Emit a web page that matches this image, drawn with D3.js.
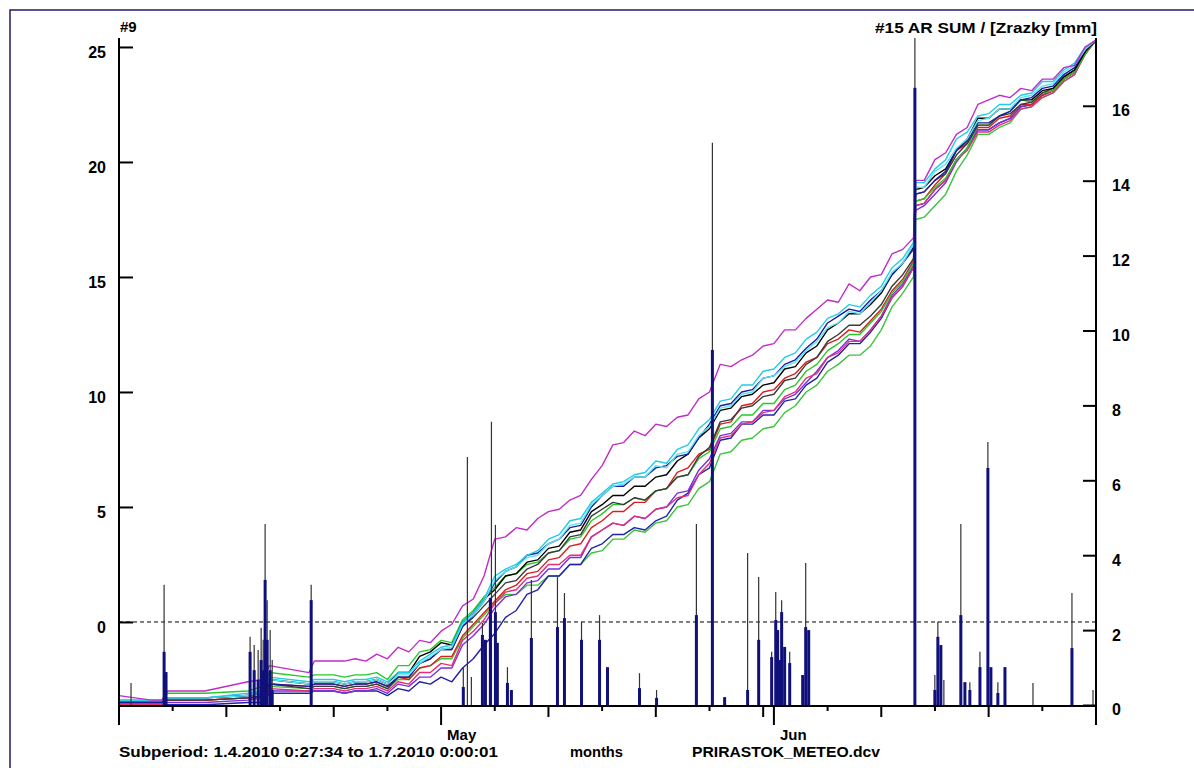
<!DOCTYPE html>
<html><head><meta charset="utf-8">
<script src="https://cdn.jsdelivr.net/npm/d3@7"></script>
<style>
body{margin:0;background:#fff}
svg{display:block}
text{font-family:"Liberation Sans",Arial,sans-serif;font-weight:bold;fill:#000}
</style>
</head><body>
<svg id="c" width="1194" height="768"></svg>
<script>
// ---- DATA (days after 1.4.2010 0:00) ----
const sampleDays = [0,3,4,4.5,8,12,13.4,14,17.7,18.2,
  20,21,22,23,24,25,26,27,28,29,
  30,31,32,33,34,35,36,37,38,39,
  40,41,42,43,44,45,46,47,48,49,
  50,51,52,53,54,55,56,57,58,59,
  60,61,62,63,64,65,66,67,68,69,
  70,71,72,73,74,74.2,
  75,76,77,78,79,80,81,82,83,84,85,86,87,88,89,90,91];

const magenta = [-3.2,-3.4,-3.4,-3.0,-3.0,-2.6,-2.5,-1.9,-2.2,-1.7,
  -1.7,-1.7,-1.6,-1.7,-1.4,-1.6,-1.1,-1.3,-0.8,-0.9,
  -0.4,-0.1,0.7,1.0,2.0,3.6,3.7,4.1,4.0,4.5,
  4.8,4.9,5.3,5.5,6.2,6.8,7.7,7.8,8.3,8.1,
  8.6,8.5,8.9,9.0,9.7,10.0,11.2,11.1,11.4,11.6,
  12.0,12.1,12.7,12.7,13.2,13.6,14.0,13.9,14.7,14.4,
  15.0,15.1,16.0,16.2,16.7,19.2,
  19.2,20.1,20.4,21.2,21.5,22.5,22.7,22.9,22.8,23.2,23.1,23.6,23.6,24.1,24.2,25.0,25.3];
const cyan1 = [-3.4,-3.4,-3.4,-3.3,-3.3,-3.1,-3.0,-2.4,-2.6,-2.5,
  -2.5,-2.6,-2.5,-2.5,-2.4,-2.6,-2.2,-2.2,-1.7,-1.4,
  -1.1,-1.0,0.0,0.4,1.0,2.0,2.3,2.5,2.9,3.1,
  3.6,3.8,4.4,4.5,5.2,5.6,6.0,6.1,6.4,6.5,
  7.0,6.9,7.5,7.7,8.4,8.8,9.6,9.7,10.3,10.3,
  10.9,11.0,11.5,11.7,12.3,12.6,13.2,13.4,13.8,13.7,
  14.2,14.6,15.4,15.8,16.5,19.1,
  19.1,19.7,20.1,21.0,21.3,22.0,22.1,22.5,22.5,22.9,23.0,23.5,23.5,24.0,24.3,25.0,25.3];
const cyan2 = [-3.4,-3.4,-3.4,-3.3,-3.3,-3.2,-3.1,-2.5,-2.7,-2.6,
  -2.6,-2.7,-2.6,-2.6,-2.5,-2.7,-2.3,-2.3,-1.8,-1.5,
  -1.2,-1.1,-0.1,0.3,0.9,1.8,2.2,2.4,2.8,2.9,
  3.4,3.6,4.2,4.3,5.1,5.5,5.9,6.0,6.3,6.3,
  6.8,6.7,7.3,7.4,8.1,8.5,9.3,9.4,9.9,10.0,
  10.6,10.7,11.1,11.3,11.8,12.2,12.8,13.0,13.5,13.4,
  13.9,14.4,15.2,15.6,16.4,18.9,
  18.9,19.6,19.9,20.6,21.0,21.8,21.9,22.3,22.3,22.8,22.9,23.3,23.4,23.9,24.2,24.9,25.3];
const navy1 = [-3.5,-3.5,-3.5,-3.3,-3.3,-3.2,-3.1,-2.7,-2.8,-2.7,
  -2.7,-2.8,-2.7,-2.7,-2.6,-2.8,-2.4,-2.4,-1.8,-1.6,
  -1.2,-1.2,-0.2,0.3,0.9,1.7,2.2,2.4,2.9,3.0,
  3.4,3.6,4.1,4.2,5.0,5.5,5.9,5.9,6.3,6.3,
  6.7,6.8,7.2,7.3,8.0,8.6,9.4,9.5,10.0,10.1,
  10.6,10.7,11.2,11.4,11.9,12.3,13.0,13.3,13.6,13.5,
  14.0,14.4,15.1,15.6,16.2,18.6,
  18.7,19.2,19.6,20.5,20.9,21.7,21.7,22.0,22.2,22.7,22.8,23.2,23.3,23.8,24.1,24.9,25.3];
const black1 = [-3.5,-3.5,-3.5,-3.3,-3.3,-3.2,-3.1,-2.5,-2.7,-2.6,
  -2.6,-2.7,-2.6,-2.6,-2.5,-2.7,-2.2,-2.2,-1.5,-1.3,
  -0.9,-1.0,0.0,0.4,1.0,1.4,2.0,2.1,2.6,2.7,
  3.2,3.3,3.9,4.0,4.8,5.1,5.5,5.5,5.9,5.9,
  6.3,6.4,7.0,7.3,8.0,8.4,9.2,9.3,9.8,9.9,
  10.3,10.4,11.0,11.1,11.7,12.0,12.7,13.0,13.4,13.4,
  13.8,14.3,15.1,15.6,16.3,18.8,
  18.9,19.4,19.7,20.5,21.0,21.9,21.9,22.3,22.3,22.7,22.7,23.1,23.2,23.7,24.0,24.8,25.3];
const black2 = [-3.5,-3.5,-3.5,-3.4,-3.4,-3.3,-3.2,-2.7,-2.9,-2.8,
  -2.8,-2.9,-2.8,-2.8,-2.7,-2.9,-2.4,-2.4,-1.8,-1.6,
  -1.2,-1.2,-0.2,0.2,0.7,1.2,1.7,1.8,2.3,2.5,
  3.0,3.1,3.7,3.8,4.6,4.9,5.2,5.1,5.4,5.3,
  5.7,5.8,6.3,6.4,7.2,7.6,8.7,8.8,9.3,9.4,
  9.8,9.9,10.5,10.6,11.2,11.5,12.2,12.5,12.9,12.9,
  13.3,13.8,14.6,15.1,15.8,18.6,
  18.7,19.2,19.5,20.3,20.8,21.6,21.6,22.0,22.1,22.5,22.6,23.0,23.2,23.7,24.0,24.8,25.3];
const green1 = [-3.4,-3.4,-3.4,-3.1,-3.1,-3.0,-2.8,-2.2,-2.4,-2.3,
  -2.3,-2.4,-2.3,-2.3,-2.2,-2.5,-1.9,-1.9,-1.3,-1.2,
  -0.8,-0.9,0.1,0.5,1.1,1.5,2.0,2.1,2.5,2.6,
  3.0,3.1,3.6,3.7,4.4,4.7,5.1,5.1,5.4,5.3,
  5.7,5.8,6.3,6.4,7.1,7.4,8.4,8.5,9.0,9.0,
  9.5,9.5,10.1,10.3,10.9,11.2,11.8,12.1,12.5,12.5,
  13.0,13.5,14.3,14.8,15.6,18.3,
  18.4,18.9,19.3,20.1,20.6,21.6,21.6,22.0,22.2,22.7,22.6,23.0,23.1,23.6,23.9,24.7,25.3];
const red1 = [-3.5,-3.5,-3.5,-3.4,-3.4,-3.3,-3.2,-2.7,-2.8,-2.7,
  -2.7,-2.8,-2.7,-2.7,-2.6,-2.8,-2.4,-2.5,-2.0,-1.9,
  -1.5,-1.5,-0.6,-0.1,0.4,0.9,1.4,1.6,2.1,2.2,
  2.7,2.8,3.3,3.4,4.1,4.4,4.8,4.8,5.2,5.2,
  5.7,5.8,6.5,6.7,7.3,7.5,8.6,8.7,9.4,9.5,
  10.0,10.1,10.6,10.8,11.3,11.5,12.1,12.3,12.7,12.6,
  13.1,13.6,14.4,14.9,15.7,18.3,
  18.4,19.0,19.5,20.5,20.8,21.5,21.5,21.9,22.0,22.5,22.5,22.9,23.1,23.6,23.9,24.7,25.3];
const pink = [-3.6,-3.6,-3.6,-3.4,-3.4,-3.3,-3.3,-2.9,-3.0,-2.9,
  -2.9,-3.0,-2.9,-2.9,-2.8,-3.0,-2.6,-2.7,-2.2,-2.2,
  -1.8,-1.9,-0.8,-0.4,0.1,0.8,1.3,1.4,1.9,2.0,
  2.5,2.5,2.9,2.9,3.7,4.0,4.3,4.2,4.6,4.5,
  4.9,5.0,5.4,5.5,6.4,6.9,8.0,8.1,8.6,8.7,
  9.1,9.2,9.8,10.0,10.6,10.8,11.5,11.7,12.2,12.2,
  12.7,13.3,14.1,14.6,15.4,18.1,
  18.2,18.8,19.2,20.1,20.5,21.3,21.3,21.6,21.8,22.3,22.4,22.8,23.0,23.5,23.8,24.7,25.3];
const violet = [-3.6,-3.6,-3.6,-3.5,-3.5,-3.4,-3.3,-3.0,-3.0,-3.0,
  -3.0,-3.1,-3.0,-3.0,-2.9,-3.1,-2.7,-2.8,-2.4,-2.4,
  -2.0,-2.0,-1.0,-0.6,-0.1,0.6,1.1,1.2,1.7,1.8,
  2.3,2.3,2.8,2.8,3.7,4.0,4.3,4.2,4.6,4.5,
  4.9,5.0,5.6,5.7,6.6,7.1,8.1,8.2,8.7,8.7,
  9.2,9.2,9.7,9.9,10.4,10.9,11.5,11.8,12.3,12.2,
  12.7,13.3,14.2,14.7,15.5,17.9,
  18.1,18.6,19.1,20.0,20.6,21.4,21.4,21.7,21.9,22.4,22.5,22.9,23.1,23.6,23.9,24.7,25.3];
const navy2 = [-3.6,-3.6,-3.6,-3.6,-3.6,-3.5,-3.5,-3.1,-3.1,-3.0,
  -3.0,-3.1,-3.0,-3.0,-3.0,-3.2,-2.9,-3.0,-2.6,-2.7,
  -2.4,-2.6,-2.0,-1.6,-1.0,-0.5,0.2,0.5,1.2,1.4,
  2.0,2.0,2.5,2.5,3.2,3.4,3.8,3.8,4.1,4.0,
  4.4,4.6,5.3,5.6,6.4,6.7,7.9,8.0,8.6,8.6,
  9.0,9.0,9.6,9.7,10.3,10.6,11.3,11.6,12.1,12.1,
  12.6,13.2,14.1,14.6,15.4,18.1,
  18.2,18.8,19.2,20.1,20.6,21.4,21.4,21.7,21.9,22.4,22.5,22.9,23.1,23.6,23.9,24.8,25.3];
const green2 = [-3.5,-3.5,-3.5,-3.4,-3.4,-3.3,-3.3,-2.8,-2.9,-2.8,
  -2.8,-2.9,-2.8,-2.8,-2.7,-2.9,-2.5,-2.5,-2.0,-1.9,
  -1.6,-1.6,-0.7,-0.2,0.3,0.8,1.2,1.2,1.6,1.6,
  2.0,2.0,2.5,2.5,3.0,3.1,3.6,3.6,4.0,3.9,
  4.3,4.4,5.0,5.1,5.8,6.1,7.3,7.4,7.9,8.0,
  8.4,8.5,9.1,9.4,10.0,10.3,10.9,11.2,11.6,11.6,
  12.0,12.7,13.7,14.3,15.0,17.5,
  17.6,18.1,18.6,19.6,20.3,21.2,21.2,21.5,21.7,22.3,22.4,22.8,23.0,23.5,23.8,24.7,25.3];

// precipitation (right axis, mm)
const rainDays = [1.12,4.20,4.38,12.21,12.59,12.96,13.24,13.43,13.61,13.80,14.08,14.27,17.90,32.07,32.45,32.82,33.85,34.13,34.59,34.69,35.06,35.24,36.18,36.55,38.41,40.84,41.49,43.08,44.76,45.50,48.48,50.07,53.78,55.27,56.41,58.55,59.58,60.79,61.17,61.35,61.54,61.72,62.00,62.47,63.68,63.96,64.24,74.13,75.99,76.27,76.55,76.83,78.41,78.79,79.25,80.19,80.93,81.21,81.86,82.52,85.13,88.76,90.72];
const rainThin = [0.59,3.21,0,1.82,1.60,1.47,2.06,1.74,4.83,2.80,2.00,1.20,3.21,1.01,6.62,0.75,2.19,0,0,7.56,4.81,0,1.01,0,3.34,3.42,2.99,2.22,2.40,0,0.85,0.40,4.83,15.01,0,4.06,3.42,1.42,3.02,0,0,2.80,0,1.42,0,3.79,0,17.81,0.80,2.22,0,0.67,4.83,0,0.61,1.42,7.02,0,0.61,1.01,0.59,2.99,0.40];
const rainNavy = [0,1.42,0.88,1.42,0.93,0.67,1.20,0.93,3.34,1.74,0.93,0.40,2.80,0.48,0,0,1.87,1.74,2.86,0,2.48,1.66,0.59,0.40,1.79,2.08,2.32,1.74,1.74,1.01,0.45,0.19,2.40,9.48,0.21,0.40,1.74,1.28,2.27,2.00,1.20,2.48,1.55,1.12,0.80,2.08,2.00,16.48,0.40,1.82,1.60,0,2.40,0.61,0.40,1.01,6.33,1.01,0.32,1.01,0,1.52,0];

const leftTicks = [0,5,10,15,20,25];
const rightTicks = [0,2,4,6,8,10,12,14,16];
const monthLabels = [{m:4,label:"May"},{m:5,label:"Jun"}];
const tickDaysOfMonth = [1,6,11,16,21,26,31];

const series = [
  {v:green2, c:"#3cc43c"},
  {v:navy2, c:"#2222a8"},
  {v:violet, c:"#7a2ee0"},
  {v:pink, c:"#e0307a"},
  {v:red1, c:"#d81e1e"},
  {v:green1, c:"#28c828"},
  {v:black2, c:"#3a3a3a"},
  {v:black1, c:"#000000"},
  {v:navy1, c:"#1c1ca0"},
  {v:cyan2, c:"#58e4f4"},
  {v:cyan1, c:"#22cce4"},
  {v:magenta, c:"#c02cc8"}
];

// ---- CHART ----
const svg = d3.select("#c");
const t0 = new Date(2010,3,1);
const toDate = d => new Date(t0.getTime() + d*864e5);
const x = d3.scaleTime().domain([t0, new Date(2010,6,1)]).range([119,1096]);
const yL = d3.scaleLinear().domain([-3.61,25.39]).range([705,38]);
const yR = d3.scaleLinear().domain([0,17.81]).range([705,38]);

// frame
svg.append("path").attr("d","M10,768V10H1194").attr("fill","none").attr("stroke","#1e1e64").attr("stroke-width",1.5);

// dashed zero line
svg.append("line").attr("x1",x.range()[0]).attr("x2",x.range()[1]).attr("y1",yL(0)).attr("y2",yL(0))
  .attr("stroke","#000").attr("stroke-width",1).attr("stroke-dasharray","4,3");

// lines
const line = d3.line().defined(d=>d!=null).x((d,i)=>x(toDate(sampleDays[i]))).y(d=>yL(d));
svg.append("g").selectAll("path").data(series).join("path")
  .attr("d",s=>line(s.v)).attr("fill","none").attr("stroke",s=>s.c).attr("stroke-width",1.4)
  .attr("stroke-linejoin","round");

// rain thin lines
svg.append("g").selectAll("line").data(rainDays.map((d,i)=>({d,v:rainThin[i]})).filter(r=>r.v>0)).join("line")
  .attr("x1",r=>x(toDate(r.d))).attr("x2",r=>x(toDate(r.d)))
  .attr("y1",yR(0)).attr("y2",r=>yR(r.v)).attr("stroke","#333").attr("stroke-width",1.2);
// rain navy bars
svg.append("g").selectAll("rect").data(rainDays.map((d,i)=>({d,v:rainNavy[i]})).filter(r=>r.v>0)).join("rect")
  .attr("x",r=>x(toDate(r.d))-1.5).attr("width",3)
  .attr("y",r=>yR(r.v)).attr("height",r=>yR(0)-yR(r.v)).attr("fill","#10107a");

// left axis
const gL = svg.append("g").attr("transform",`translate(${x.range()[0]},0)`)
  .call(d3.axisLeft(yL).tickValues(leftTicks).tickSizeInner(-14).tickSizeOuter(0).tickPadding(13));
gL.select(".domain").remove();
gL.selectAll(".tick line").attr("stroke","#000").attr("stroke-width",2);
gL.selectAll(".tick text").attr("dy","0.68em").style("font-size","16px").style("font-family","'Liberation Sans',Arial,sans-serif").style("font-weight","bold");

// right axis
const gR = svg.append("g").attr("transform",`translate(${x.range()[1]},0)`)
  .call(d3.axisRight(yR).tickValues(rightTicks).tickSizeInner(-13).tickSizeOuter(0).tickPadding(16));
gR.select(".domain").remove();
gR.selectAll(".tick line").attr("stroke","#000").attr("stroke-width",2);
gR.selectAll(".tick text").attr("dy","0.62em").style("font-size","16px").style("font-family","'Liberation Sans',Arial,sans-serif").style("font-weight","bold");

// axis lines
const yTop = 38, yBase = yR(0);
svg.append("line").attr("x1",x.range()[0]).attr("x2",x.range()[0]).attr("y1",yTop).attr("y2",yBase).attr("stroke","#000").attr("stroke-width",2);
svg.append("line").attr("x1",x.range()[1]).attr("x2",x.range()[1]).attr("y1",yTop).attr("y2",yBase).attr("stroke","#000").attr("stroke-width",2);
svg.append("line").attr("x1",x.range()[0]-1).attr("x2",x.range()[1]+1).attr("y1",yBase+1).attr("y2",yBase+1).attr("stroke","#000").attr("stroke-width",2);

// bottom ticks
const xticks = [];
[3,4,5].forEach(m=>tickDaysOfMonth.forEach(dd=>{
  const dt = new Date(2010,m,dd);
  if(dt.getMonth()===m) xticks.push(dt);
}));
xticks.push(new Date(2010,6,1));
svg.append("g").selectAll("line").data(xticks).join("line")
  .attr("x1",d=>x(d)).attr("x2",d=>x(d)).attr("y1",yBase)
  .attr("y2",d=>{const dd=d.getDate(); return yBase + (dd===1?20:([11,21,31].includes(dd)?12:6));})
  .attr("stroke","#000").attr("stroke-width",2);

// month labels
svg.append("g").selectAll("text").data(monthLabels).join("text")
  .attr("x",d=>x(new Date(2010,d.m,1))+6).attr("y",740)
  .style("font-size","15px").text(d=>d.label);

// titles
svg.append("text").attr("x",120).attr("y",32).style("font-size","15px").text("#9");
svg.append("text").attr("x",1097).attr("y",33).attr("text-anchor","end").style("font-size","14px")
  .attr("textLength",222).attr("lengthAdjust","spacingAndGlyphs").text("#15  AR SUM / [Zrazky [mm]");

// footer
svg.append("text").attr("x",119).attr("y",757).style("font-size","15px")
  .attr("textLength",379).attr("lengthAdjust","spacingAndGlyphs").text("Subperiod: 1.4.2010 0:27:34 to 1.7.2010 0:00:01");
svg.append("text").attr("x",570).attr("y",757).style("font-size","15px")
  .attr("textLength",53).attr("lengthAdjust","spacingAndGlyphs").text("months");
svg.append("text").attr("x",692).attr("y",757).style("font-size","15px")
  .attr("textLength",188).attr("lengthAdjust","spacingAndGlyphs").text("PRIRASTOK_METEO.dcv");
</script>
</body></html>
